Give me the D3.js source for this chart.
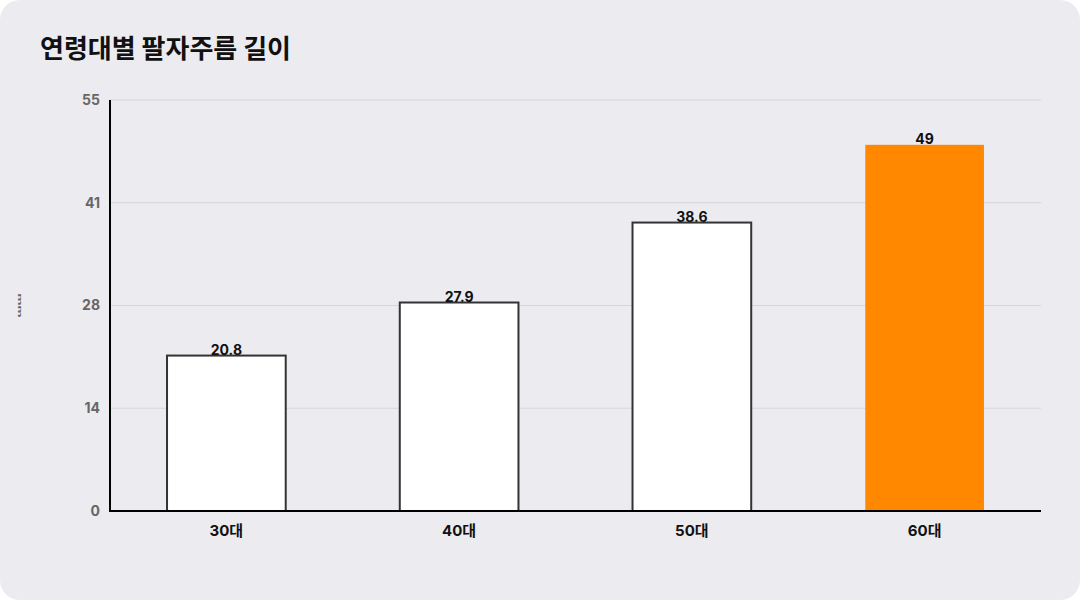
<!DOCTYPE html>
<html>
<head>
<meta charset="utf-8">
<script src="https://cdn.jsdelivr.net/npm/d3@7"></script>
<style>
  html, body { margin: 0; padding: 0; background: #fff; }
  svg { display: block; font-family: Inter, "Noto Sans CJK KR", sans-serif; }
</style>
</head>
<body>
<svg id="chart"></svg>
<script>
// --- DATA ---
const categories = ["30대", "40대", "50대", "60대"];
const values = [20.8, 27.9, 38.6, 49];
const highlight = [false, false, false, true];
const yTicks = [0, 13.75, 27.5, 41.25, 55];
const yTickLabels = ["0", "14", "28", "41", "55"];
const title = "연령대별 팔자주름 길이";
const yUnit = "mm";

const width = 1080, height = 600;
const margin = { top: 100, right: 39, bottom: 89, left: 110 };

const svg = d3.select("#chart").attr("width", width).attr("height", height);

// card background
svg.append("rect")
    .attr("width", width).attr("height", height)
    .attr("rx", 20).attr("ry", 20)
    .attr("fill", "#ECEBF0");

// title
svg.append("text")
    .attr("x", 40).attr("y", 58)
    .attr("fill", "#111")
    .style("font-family", "'Noto Sans CJK KR', sans-serif")
    .style("font-size", "26px").style("font-weight", "bold")
    .text(title);

// --- SCALES ---
const x = d3.scaleBand()
    .domain(categories)
    .range([margin.left, width - margin.right])
    .paddingInner(0.49).paddingOuter(0.245);

const y = d3.scaleLinear()
    .domain([0, 55])
    .range([height - margin.bottom, margin.top]);

// gridlines
svg.append("g").selectAll("line")
    .data(yTicks.filter(d => d > 0)).join("line")
    .attr("x1", margin.left).attr("x2", width - margin.right)
    .attr("y1", d => y(d)).attr("y2", d => y(d))
    .attr("stroke", "#D7D5DB").attr("stroke-width", 1);

// y tick labels
svg.append("g").selectAll("text")
    .data(yTicks).join("text")
    .attr("x", 100).attr("y", d => y(d))
    .attr("dy", "0.35em")
    .attr("text-anchor", "end")
    .attr("fill", "#666")
    .style("font-size", "14px").style("font-weight", "bold")
    .text((d, i) => yTickLabels[i]);

// y unit label (tiny, rotated)
svg.append("text")
    .attr("transform", `translate(18, ${y(27.5)}) rotate(90)`)
    .attr("text-anchor", "middle")
    .attr("fill", "#666")
    .style("font-size", "5px").style("font-weight", "bold")
    .attr("textLength", 24).attr("lengthAdjust", "spacingAndGlyphs")
    .text(yUnit);

// --- BARS ---
svg.append("g").selectAll("rect")
    .data(values).join("rect")
    .attr("x", (d, i) => x(categories[i]))
    .attr("y", d => y(d))
    .attr("width", x.bandwidth())
    .attr("height", d => y(0) - y(d))
    .attr("fill", (d, i) => highlight[i] ? "#FF8800" : "#fff")
    .attr("stroke", (d, i) => highlight[i] ? "none" : "#333")
    .attr("stroke-width", 2);

// value labels
svg.append("g").selectAll("text")
    .data(values).join("text")
    .attr("x", (d, i) => x(categories[i]) + x.bandwidth() / 2)
    .attr("y", d => y(d) - 1)
    .attr("text-anchor", "middle")
    .attr("fill", "#111")
    .style("font-size", "14px").style("font-weight", "bold")
    .text(d => d);

// axes lines
svg.append("line")
    .attr("x1", margin.left).attr("x2", margin.left)
    .attr("y1", margin.top).attr("y2", y(0) + 1)
    .attr("stroke", "#000").attr("stroke-width", 2);
svg.append("line")
    .attr("x1", margin.left - 1).attr("x2", width - margin.right)
    .attr("y1", y(0)).attr("y2", y(0))
    .attr("stroke", "#000").attr("stroke-width", 2);

// x labels
svg.append("g").selectAll("text")
    .data(categories).join("text")
    .attr("x", d => x(d) + x.bandwidth() / 2)
    .attr("y", y(0) + 25)
    .attr("text-anchor", "middle")
    .attr("fill", "#111")
    .style("font-size", "15px").style("font-weight", "bold")
    .text(d => d);
</script>
</body>
</html>
